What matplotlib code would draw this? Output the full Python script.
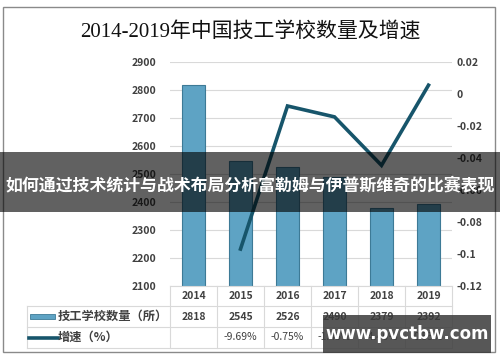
import matplotlib
matplotlib.use('Agg')
import matplotlib.pyplot as plt
from matplotlib.patches import Rectangle
from matplotlib.lines import Line2D
from matplotlib.transforms import blended_transform_factory

plt.rcParams['font.family'] = ['Noto Sans CJK SC', 'DejaVu Sans']

# data
years = ['2014', '2015', '2016', '2017', '2018', '2019']
schools = [2818, 2545, 2526, 2490, 2379, 2392]
growth = [None, -0.0969, -0.0075, -0.0143, -0.0446, 0.0055]
growth_labels = ['', '-9.69%', '-0.75%', '-1.43%', '-4.46%', '0.55%']
left_ticks = [2100, 2200, 2300, 2400, 2500, 2600, 2700, 2800, 2900]
right_ticks = [-0.12, -0.1, -0.08, -0.06, -0.04, -0.02, 0, 0.02]

W, H = 500, 362
def fx(x): return x / W
def fy(y): return 1 - y / H

txt = '#404040'
grid = '#d9d9d9'
bar_c = '#5ea3c4'
line_c = '#17556b'

fig = plt.figure(figsize=(5, 3.62), dpi=100)
ax = fig.add_axes([fx(170), fy(286), 282 / W, 224 / H])
ax2 = ax.twinx()

x = list(range(len(years)))
ax.bar(x, schools, width=0.47, color=bar_c, edgecolor='#3d7a96', linewidth=0.8, zorder=2)
ax.set_xlim(-0.5, len(years) - 0.5)
ax.set_ylim(2100, 2900)
ax.set_yticks(left_ticks)
ax.yaxis.grid(True, color=grid, linewidth=0.8, zorder=0)
ax.set_axisbelow(True)
ax.set_xticks([])
ax.tick_params(axis='y', length=0, pad=10, labelsize=7.5, labelcolor=txt)
for lab in ax.get_yticklabels():
    lab.set_fontweight('bold')

gx = [i for i, g in zip(x, growth) if g is not None]
gy = [g for g in growth if g is not None]
ax2.plot(gx, gy, color=line_c, linewidth=2.6, solid_joinstyle='miter', zorder=3)
ax2.set_ylim(-0.12, 0.02)
ax2.set_yticks(right_ticks)
ax2.set_yticklabels(['%g' % t for t in right_ticks])
ax2.tick_params(axis='y', length=0, pad=3, labelsize=7.5, labelcolor=txt)
for lab in ax2.get_yticklabels():
    lab.set_fontweight('bold')

for a in (ax, ax2):
    for s in a.spines.values():
        s.set_visible(False)

# data table
tr = blended_transform_factory(ax.transData, fig.transFigure)
rows = [286, 306, 327, 348]
n = len(years)
fig.add_artist(Line2D([fx(170), fx(452)], [fy(rows[0])] * 2, color=grid, lw=0.8))
for r in rows[1:]:
    fig.add_artist(Line2D([fx(27), fx(452)], [fy(r)] * 2, color=grid, lw=0.8))
for i in range(n + 1):
    fig.add_artist(Line2D([i - 0.5, i - 0.5], [fy(rows[0]), fy(rows[3])], color=grid, lw=0.8, transform=tr))
fig.add_artist(Line2D([fx(27), fx(27)], [fy(rows[1]), fy(rows[3])], color=grid, lw=0.8))

for i in range(n):
    fig.text(i, fy(296), years[i], transform=tr, ha='center', va='center', fontsize=7.5, color=txt, fontweight='bold')
    fig.text(i, fy(316.5), str(schools[i]), transform=tr, ha='center', va='center', fontsize=7.5, color=txt, fontweight='bold')
    fig.text(i, fy(337.5), growth_labels[i], transform=tr, ha='center', va='center', fontsize=7.5, color=txt)

fig.add_artist(Rectangle((fx(30), fy(319)), 25 / W, 5 / H, facecolor=bar_c, edgecolor='#3d7a96', lw=0.6))
fig.text(fx(58), fy(316.5), '技工学校数量（所）', ha='left', va='center', fontsize=8.8, color=txt, fontweight='bold')
fig.add_artist(Line2D([fx(29), fx(58)], [fy(337.5)] * 2, color=line_c, lw=2.6))
fig.text(fx(58), fy(337.5), '增速（%）', ha='left', va='center', fontsize=8.8, color=txt, fontweight='bold')

fig.text(0.5, fy(33), '2014-2019年中国技工学校数量及增速', ha='center', va='center', fontsize=15,
         color='#111111', family=['Liberation Serif', 'Noto Sans CJK SC'])

# outer frame
fig.add_artist(Rectangle((fx(3), fy(352)), 492 / W, 345 / H, fill=False, edgecolor='#8a8a8a', lw=1))

# overlay banner
fig.add_artist(Rectangle((0, fy(212)), 1, 60 / H, facecolor='black', alpha=0.62, edgecolor='none', zorder=10))
fig.text(0.5, fy(185), '如何通过技术统计与战术布局分析富勒姆与伊普斯维奇的比赛表现', ha='center', va='center',
         fontsize=12.2, color='white', fontweight='bold', zorder=11)

# watermark
fig.add_artist(Rectangle((fx(323), fy(353)), 168 / W, 38 / H, facecolor='#3a3a3a', alpha=0.85, edgecolor='none', zorder=10))
fig.text(fx(407), fy(334), 'www.pvctbw.com', ha='center', va='center', fontsize=12, color='white',
         fontweight='bold', family='DejaVu Sans', zorder=11)

fig.savefig('out.png', dpi=100)
